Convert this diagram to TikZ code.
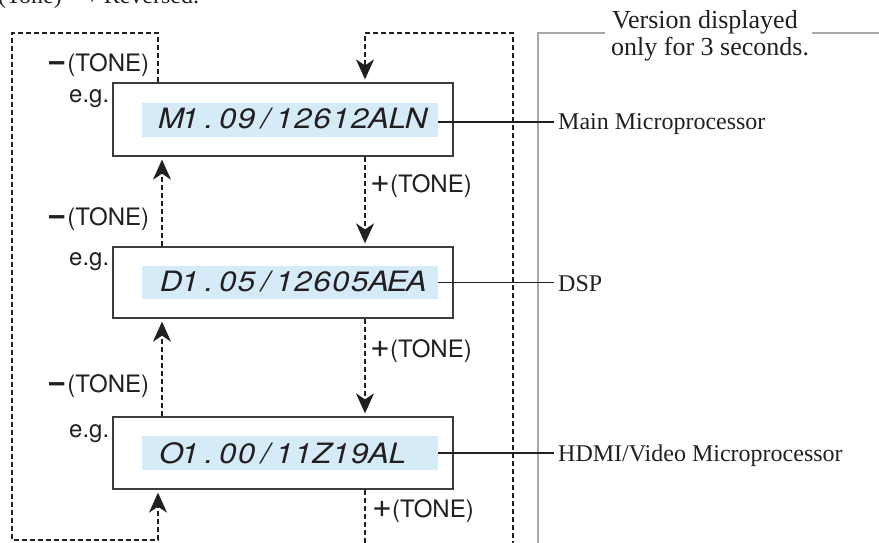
\documentclass[tikz,border=0pt]{standalone}
\usepackage{fontspec}
\setmainfont{Liberation Serif}
\newfontfamily\sansf{TeX Gyre Heros}
\usetikzlibrary{arrows.meta}
\definecolor{ink}{HTML}{231F20}
\definecolor{boxline}{HTML}{3C3C3C}
\definecolor{lcdblue}{HTML}{D5EBF8}
\definecolor{rulegray}{HTML}{A7A9AC}
\def\lcdloop#1{\ifx#1\relax\else\makebox[18.85pt][c]{\scalebox{1.12}[1]{#1}}\expandafter\lcdloop\fi}
\newcommand\lcd[1]{\lcdloop#1\relax}
\newcommand\minussign{{\fontsize{33}{33}\selectfont\bfseries −}}
\newcommand\plussign{{\fontsize{34}{34}\selectfont +}}
\begin{document}
\begin{tikzpicture}[x=1pt,y=-1pt,
  box/.style={draw=boxline, line width=1.3pt, minimum width=340pt, inner sep=0pt},
  lcdbg/.style={fill=lcdblue, minimum width=296pt, minimum height=34pt, inner sep=0pt},
  lcdtxt/.style={inner sep=0pt, anchor=base west, text=ink, font=\sansf\itshape\fontsize{28}{28}\selectfont},
  tone/.style={inner sep=0pt, anchor=base west, text=ink, font=\sansf\fontsize{24}{24}\selectfont},
  lab/.style={inner xsep=4pt, inner ysep=0pt, anchor=base west, text=ink, font=\fontsize{24}{24}\selectfont},
  note/.style={inner sep=0pt, anchor=base west, text=ink, font=\fontsize{26}{26}\selectfont},
  dline/.style={draw=ink, line width=1.3pt, dash pattern=on 5pt off 3pt},
  tiparrow/.style={-{Stealth[length=20pt,width=18pt,inset=6pt]}, shorten >=3pt},
  conn/.style={draw=ink, line width=1.2pt},
  grayrule/.style={draw=rulegray, line width=1.8pt}]
\useasboundingbox (0,0) rectangle (879,542);
\clip (0,0) rectangle (879,542);

% clipped heading
\node[inner sep=0pt, anchor=base west, text=ink, font=\fontsize{24}{24}\selectfont] (rev) at (-2,3) {(Tone)\hspace{14pt}→\hspace{4pt}Reversed.};

% loop coordinates
\coordinate (lt) at (12,33);
\coordinate (lb) at (12,540);
\coordinate (rt) at (513,33);
\coordinate (rb) at (513,560);

% boxes
\node[box, minimum height=73pt] (b1) at (283,119.5) {};
\node[box, minimum height=71pt] (b2) at (283,282.5) {};
\node[box, minimum height=72pt] (b3) at (283,453) {};

\node[lcdbg] (h1) at (290,120) {};
\node[lcdbg, minimum height=33pt] (h2) at (290,282.5) {};
\node[lcdbg] (h3) at (290,453) {};

\node[lcdtxt] (t1) at (161.6,128) {\lcd{M1.09/12612ALN}};
\node[lcdtxt] (t2) at (161.6,291) {\lcd{D1.05/12605AEA}};
\node[lcdtxt] (t3) at (161.6,463) {\lcd{O1.00/11Z19AL}};

% tone labels
\node[tone] (m1) at (47,71) {\minussign\hspace{1pt}(TONE)};
\node[tone] (m2) at (47,225) {\minussign\hspace{1pt}(TONE)};
\node[tone] (m3) at (47,392) {\minussign\hspace{1pt}(TONE)};
\node[tone] (e1) at (69,102) {e.g.};
\node[tone] (e2) at (69,265) {e.g.};
\node[tone] (e3) at (69,437) {e.g.};
\node[tone] (p1) at (370,192) {\plussign(TONE)};
\node[tone] (p2) at (370,357) {\plussign(TONE)};
\node[tone] (p3) at (372,517) {\plussign(TONE)};

% dashed loops and arrows
\draw[dline, tiparrow] ([xshift=-125pt]b1.north) |- (lt) -- (lb) -| ([xshift=-125pt]b3.south);
\draw[dline, tiparrow] ([xshift=82pt]b3.south) |- (rb) -- (rt) -| ([xshift=82pt]b1.north);
\draw[dline, tiparrow] ([xshift=82pt]b1.south) -- ([xshift=82pt]b2.north);
\draw[dline, tiparrow] ([xshift=82pt]b2.south) -- ([xshift=82pt]b3.north);
\draw[dline, tiparrow] ([xshift=-121pt]b2.north) -- ([xshift=-121pt]b1.south);
\draw[dline, tiparrow] ([xshift=-121pt]b3.north) -- ([xshift=-121pt]b2.south);

% gray bracket
\node[note] (ver1) at (612,28) {Version displayed};
\node[note] (ver2) at (611,55) {only for 3 seconds.};
\draw[grayrule] (605,33) -- (538,33) -- (538,560);
\draw[grayrule] (812,33) -- (890,33);

% labels
\node[lab] (l1) at (554,129) {Main Microprocessor};
\node[lab] (l2) at (554,291) {DSP};
\node[lab] (l3) at (554,461) {HDMI/Video Microprocessor};
\draw[conn] ([yshift=-2pt]h1.east) -- ([yshift=-2pt]h1.east -| l1.west);
\draw[conn] (h2.east) -- (h2.east -| l2.west);
\draw[conn] (h3.east) -- (h3.east -| l3.west);
\end{tikzpicture}
\end{document}
